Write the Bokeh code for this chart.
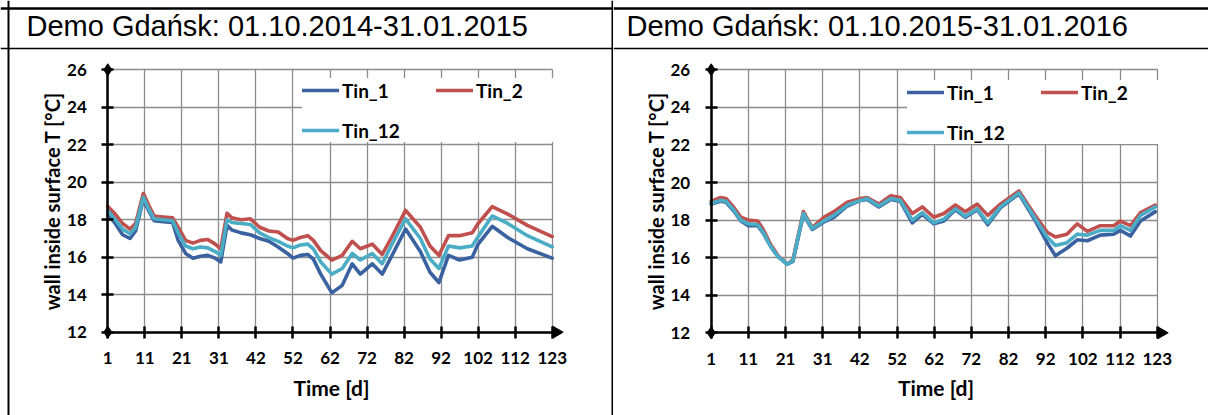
import math
from bokeh.plotting import figure
from bokeh.models import Range1d, Label, Legend, LegendItem, FixedTicker, Span
from bokeh.layouts import row
from bokeh.embed import file_html
from bokeh.resources import INLINE

# ---------------- data ----------------
TITLES = ["Demo Gdańsk: 01.10.2014-31.01.2015", "Demo Gdańsk: 01.10.2015-31.01.2016"]
SERIES = ["Tin_1", "Tin_2", "Tin_12"]
COLORS = ["#3A62A0", "#C0504D", "#4BACC6"]
X_TICK_POS = [0, 10, 20, 30, 40, 50, 60, 70, 80, 90, 100, 110, 120]
X_TICK_LABELS = ["1", "11", "21", "31", "42", "52", "62", "72", "82", "92", "102", "112", "123"]
Y_TICKS = [12, 14, 16, 18, 20, 22, 24, 26]
X_LABEL = "Time [d]"
Y_LABEL = "wall inside surface T [°C]"

day_pos_2014 = [0, 2, 4, 6, 7.5, 9.6, 11, 12.5, 15, 17.5, 19, 21, 23, 25, 27, 29, 30.5,
                32.2, 33.5, 36, 38.5, 41, 43.5, 46, 48.5, 50, 52, 54, 55.5, 57.5, 60.5,
                63.3, 66, 68.2, 71.4, 74.1, 76.5, 80.4, 84.4, 87, 89.4, 92, 95, 98.4,
                100, 103.8, 108, 113.3, 120]
tin1_2014 = [18.3, 17.8, 17.2, 17.0, 17.4, 19.1, 18.5, 17.95, 17.9, 17.85, 16.9, 16.2,
             15.95, 16.05, 16.1, 15.95, 15.75, 17.7, 17.45, 17.3, 17.2, 17.0, 16.85,
             16.55, 16.2, 15.95, 16.1, 16.15, 15.9, 15.1, 14.1, 14.5, 15.65, 15.1,
             15.65, 15.1, 16.0, 17.5, 16.3, 15.2, 14.65, 16.1, 15.85, 16.0, 16.7,
             17.65, 17.05, 16.45, 15.95]
tin2_2014 = [18.7, 18.3, 17.8, 17.5, 17.8, 19.4, 18.8, 18.2, 18.15, 18.1, 17.6, 16.9,
             16.75, 16.9, 16.95, 16.7, 16.45, 18.35, 18.1, 18.0, 18.05, 17.6, 17.4,
             17.35, 17.0, 16.9, 17.05, 17.15, 16.9, 16.35, 15.85, 16.1, 16.85, 16.45,
             16.7, 16.15, 17.0, 18.5, 17.6, 16.6, 16.1, 17.15, 17.15, 17.3, 17.8,
             18.7, 18.3, 17.7, 17.1]
tin12_2014 = [18.5, 18.0, 17.5, 17.25, 17.6, 19.2, 18.6, 18.05, 18.0, 17.95, 17.3, 16.6,
              16.45, 16.55, 16.5, 16.3, 16.1, 18.0, 17.85, 17.8, 17.75, 17.3, 17.05,
              16.85, 16.6, 16.5, 16.65, 16.7, 16.45, 15.75, 15.1, 15.4, 16.2, 15.85,
              16.2, 15.65, 16.6, 18.05, 17.0, 15.9, 15.4, 16.6, 16.5, 16.6, 17.1,
              18.2, 17.8, 17.15, 16.55]

day_pos_2015 = [0, 2.5, 4, 6, 8, 10, 12.5, 14, 16, 18, 20.5, 22, 24.8, 27.2, 30.3, 33,
                36.6, 40.2, 42, 45.1, 48.3, 50.9, 54.1, 56.8, 59.9, 62.6, 65.7, 68.4,
                71.6, 74.4, 77.8, 82.8, 86.8, 90.4, 92.6, 95.7, 98.5, 101.2, 104.7,
                108.3, 110.1, 112.8, 115.5, 119.5]
tin1_2015 = [18.85, 19.0, 18.95, 18.5, 17.95, 17.7, 17.7, 17.3, 16.6, 16.05, 15.65, 15.8,
             18.3, 17.5, 17.9, 18.15, 18.75, 19.05, 19.1, 18.7, 19.1, 19.0, 17.85,
             18.3, 17.8, 17.95, 18.55, 18.15, 18.55, 17.75, 18.65, 19.4, 18.1, 16.8,
             16.1, 16.5, 16.95, 16.9, 17.2, 17.25, 17.45, 17.15, 17.95, 18.45]
tin2_2015 = [19.0, 19.2, 19.15, 18.7, 18.15, 18.0, 17.95, 17.5, 16.7, 16.1, 15.65, 15.9,
             18.45, 17.6, 18.15, 18.45, 18.95, 19.15, 19.2, 18.85, 19.3, 19.2, 18.35,
             18.7, 18.15, 18.35, 18.8, 18.45, 18.85, 18.25, 18.85, 19.55, 18.35, 17.35,
             17.1, 17.25, 17.8, 17.4, 17.7, 17.7, 17.95, 17.7, 18.4, 18.8]
tin12_2015 = [18.9, 19.05, 19.0, 18.55, 18.0, 17.8, 17.75, 17.35, 16.6, 16.05, 15.65, 15.85,
              18.35, 17.55, 17.95, 18.25, 18.8, 19.05, 19.15, 18.75, 19.15, 19.05, 18.0,
              18.4, 17.85, 18.05, 18.6, 18.2, 18.6, 17.85, 18.7, 19.45, 18.2, 17.1,
              16.65, 16.8, 17.25, 17.2, 17.45, 17.45, 17.7, 17.45, 18.25, 18.7]

PANELS = [
    (day_pos_2014, [tin1_2014, tin2_2014, tin12_2014]),
    (day_pos_2015, [tin1_2015, tin2_2015, tin12_2015]),
]

FONT = "Lato"
H = 415  # canvas height


def make_cell(title, xs, ys_list, w, title_x, x0_px, x120_px, y12_px, y26_px,
              legend_loc, left_border, right_border):
    # ranges chosen so that the frame covers the whole table cell
    xs_per = (x120_px - x0_px) / (X_TICK_POS[-1] - X_TICK_POS[0])
    ys_per = (y12_px - y26_px) / (Y_TICKS[-1] - Y_TICKS[0])
    xr = Range1d(X_TICK_POS[0] - x0_px / xs_per, X_TICK_POS[0] + (w - x0_px) / xs_per)
    yr = Range1d(Y_TICKS[0] - (H - y12_px) / ys_per, Y_TICKS[-1] + y26_px / ys_per)
    p = figure(width=w, height=H, x_range=xr, y_range=yr, toolbar_location=None,
               output_backend="svg", min_border=0)
    p.outline_line_color = None
    p.background_fill_color = "white"
    p.border_fill_color = "white"

    # grid
    p.xgrid.ticker = FixedTicker(ticks=X_TICK_POS)
    p.ygrid.ticker = FixedTicker(ticks=Y_TICKS)
    p.grid.grid_line_color = "#8c8c8c"
    p.grid.grid_line_width = 1.3
    p.xgrid.cross_bounds = (Y_TICKS[0], Y_TICKS[-1])
    p.ygrid.cross_bounds = (X_TICK_POS[0], X_TICK_POS[-1])

    # axes
    p.xaxis.ticker = FixedTicker(ticks=X_TICK_POS)
    p.xaxis.major_label_overrides = {t: l for t, l in zip(X_TICK_POS, X_TICK_LABELS)}
    p.yaxis.ticker = FixedTicker(ticks=Y_TICKS)
    p.xaxis.fixed_location = Y_TICKS[0]
    p.yaxis.fixed_location = X_TICK_POS[0]
    p.xaxis.bounds = (X_TICK_POS[0], X_TICK_POS[-1] + 1)
    p.yaxis.bounds = (Y_TICKS[0], Y_TICKS[-1])
    for ax in (p.xaxis, p.yaxis):
        ax.axis_line_color = "black"
        ax.axis_line_width = 2.5
        ax.major_tick_line_color = "black"
        ax.major_tick_line_width = 2.5
        ax.major_tick_in = 6
        ax.major_tick_out = 6
        ax.minor_tick_line_color = None
        ax.major_label_text_font = FONT
        ax.major_label_text_font_style = "bold"
        ax.major_label_text_font_size = "17px"
        ax.major_label_text_color = "black"
        ax.axis_label_text_font = FONT
        ax.axis_label_text_font_style = "bold"
        ax.axis_label_text_color = "black"
    p.xaxis.axis_label_text_font_size = "21px"
    p.yaxis.axis_label_text_font_size = "20px"
    p.xaxis.axis_label = X_LABEL
    p.yaxis.axis_label = Y_LABEL
    p.xaxis.major_label_standoff = 14
    p.yaxis.major_label_standoff = 15
    p.xaxis.axis_label_standoff = 7
    p.yaxis.axis_label_standoff = 0

    renderers = []
    for ys, c in zip(ys_list, COLORS):
        r = p.line(xs, ys, line_color=c, line_width=3.6, line_join="round", line_cap="round")
        renderers.append(r)

    # axis end decorations
    p.scatter(x=[X_TICK_POS[0], X_TICK_POS[0]], y=[Y_TICKS[0], Y_TICKS[-1]],
              marker="diamond", size=12, color="black")
    p.scatter(x=[X_TICK_POS[-1] + 1.1], y=[Y_TICKS[0]], marker="triangle",
              angle=-math.pi / 2, size=12, color="black")

    legend = Legend(items=[LegendItem(label=s, renderers=[r]) for s, r in zip(SERIES, renderers)],
                    orientation="horizontal", ncols=2, location=legend_loc,
                    background_fill_color="white", background_fill_alpha=1.0,
                    border_line_color=None, padding=10, spacing=16, margin=0,
                    glyph_width=37, glyph_height=24, label_height=24, label_width=78,
                    label_standoff=3, label_text_font=FONT, label_text_font_style="bold",
                    label_text_font_size="19px", label_text_color="black")
    p.add_layout(legend)

    # table header text and rules
    p.add_layout(Label(x=title_x, y=H - 25, x_units="screen", y_units="screen", text=title,
                       text_font="Liberation Sans", text_font_size="29px",
                       text_baseline="alphabetic", text_color="black"))
    p.add_layout(Span(location=H - 8, location_units="screen", dimension="width",
                      line_color="black", line_width=2.5))
    p.add_layout(Span(location=H - 48, location_units="screen", dimension="width",
                      line_color="black", line_width=1.6))
    if left_border:
        p.add_layout(Span(location=8, location_units="screen", dimension="height",
                          line_color="black", line_width=2))
    if right_border:
        p.add_layout(Span(location=w - 1, location_units="screen", dimension="height",
                          line_color="black", line_width=2))
    return p


# anchors are in the cell's own pixels (right cell starts at page x 613)
c1 = make_cell(TITLES[0], PANELS[0][0], PANELS[0][1], 613, 26,
               107.3, 551.7, 331.7, 69.3, (302, 273), True, True)
c2 = make_cell(TITLES[1], PANELS[1][0], PANELS[1][1], 595, 13,
               710.7 - 613, 1156.7 - 613, 332.3, 69.3, (294, 271), False, False)

layout = row(c1, c2, spacing=0)
open("out.html", "w").write(file_html(layout, INLINE))
